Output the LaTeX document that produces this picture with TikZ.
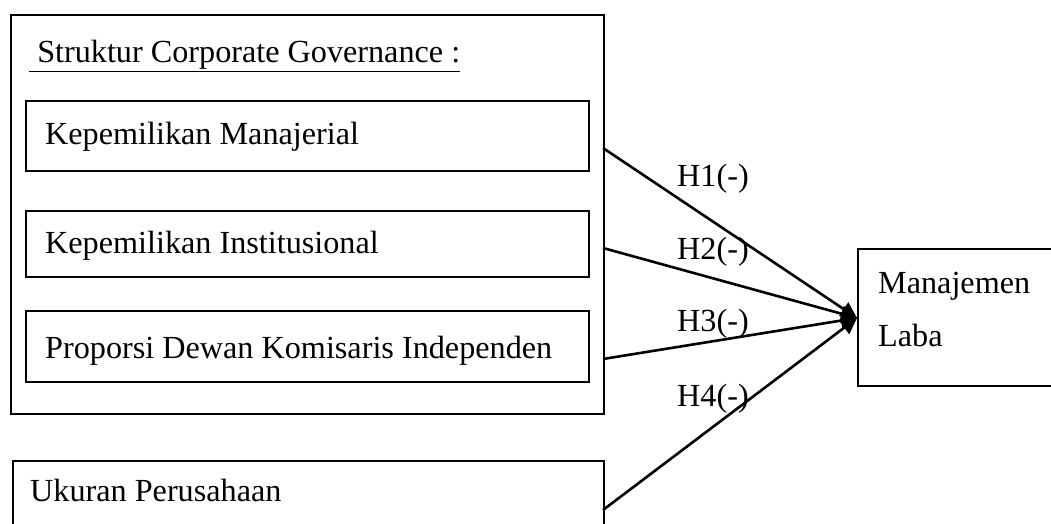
\documentclass[tikz,border=0pt]{standalone}
\usepackage{fontspec}
\setmainfont{Liberation Serif}
\usetikzlibrary{arrows.meta}
\begin{document}
\begin{tikzpicture}[x=1pt,y=-1pt,
  boxline/.style={draw,line width=2pt,inner sep=0pt},
  lbl/.style={anchor=base west,inner sep=0pt,font=\fontsize{32.2}{38}\selectfont},
  conn/.style={line width=2.6pt,-{Triangle[length=16pt,width=16pt]}}]
\useasboundingbox (0,0) rectangle (1051,524);
% outer group
\node[boxline,anchor=north west,minimum width=593pt,minimum height=399pt] (grp) at (10,14) {};
\node[boxline,anchor=north west,minimum width=563pt,minimum height=70pt] (b1) at (25,100) {};
\node[boxline,anchor=north west,minimum width=563pt,minimum height=66pt] (b2) at (25,210) {};
\node[boxline,anchor=north west,minimum width=563pt,minimum height=71pt] (b3) at (25,310) {};
\node[boxline,anchor=north west,minimum width=591pt,minimum height=80pt] (b4) at (12,460) {};
\node[boxline,anchor=north west,minimum width=210pt,minimum height=137pt] (dv) at (857,248) {};
% texts
\node[lbl] (tt) at (29,63) {\underline{\ Struktur Corporate Governance :}};
\node[lbl] (t1) at (45,144) {Kepemilikan Manajerial};
\node[lbl] (t2) at (45,253) {Kepemilikan Institusional};
\node[lbl] (t3) at (45,358) {Proporsi Dewan Komisaris Independen};
\node[lbl] (t4) at (30,501) {Ukuran Perusahaan};
\node[lbl] (m1) at (878,293) {Manajemen};
\node[lbl] (m2) at (878,346) {Laba};
% connectors
\coordinate (s1) at (603,148);
\coordinate (s2) at (603,248);
\coordinate (s3) at (603,359);
\coordinate (s4) at (603,510);
\coordinate (tip) at (857,318);
\draw[conn] (s1) -- (tip);
\draw[conn] (s2) -- (tip);
\draw[conn] (s3) -- (tip);
\draw[conn] (s4) -- (tip);
\node[lbl] (h1) at (677,186) {H1(-)};
\node[lbl] (h2) at (677,259) {H2(-)};
\node[lbl] (h3) at (677,331) {H3(-)};
\node[lbl] (h4) at (677,406) {H4(-)};
\end{tikzpicture}
\end{document}
